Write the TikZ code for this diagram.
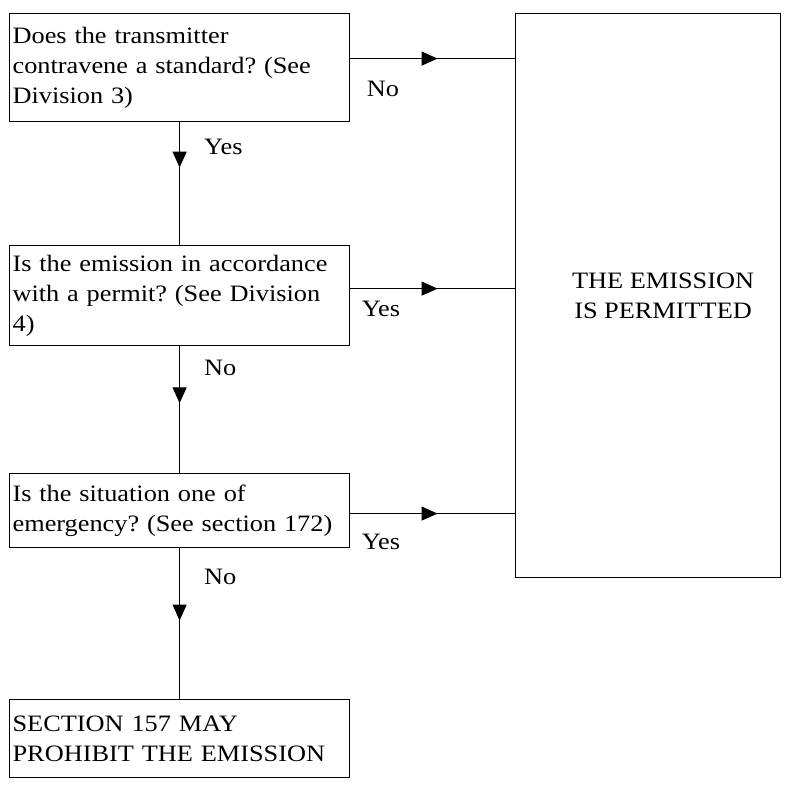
\documentclass[tikz,border=0pt]{standalone}
\usepackage{fontspec}
\setmainfont{Liberation Serif}[FakeStretch=1.12]
\usetikzlibrary{arrows.meta}
\usetikzlibrary{decorations.markings}
\frenchspacing
\newcommand{\chartfont}{\fontsize{11.75pt}{15pt}\selectfont}
\tikzset{
every picture/.style={x=0.5pt, y=-0.5pt, line width=0.6pt,
                      >={Triangle[length=8pt,width=7pt]}},
%%%%%%%%%%  Node styles
question/.style={draw, anchor=north west, align=left, text width=167pt,
                 inner xsep=1.5pt, inner ysep=0pt, minimum width=170pt,
                 font=\chartfont},
outcome/.style={draw, anchor=north west, minimum width=132.5pt,
                minimum height=282pt},
answer/.style={anchor=north west, inner sep=0pt, font=\chartfont},
%%%%%%% Mid-path arrows
flowarrow/.style={postaction={decorate},
                  decoration={
                     markings,% arrow somewhere along the line
                     mark=at position #1 with {\arrow{>}},
                  }},
flowarrow/.default=0.5
}

\begin{document}
\begin{tikzpicture}
\useasboundingbox (0,0) rectangle (811,787);
\node[question, minimum height=54pt] (standard) at (9,13)
  {Does the transmitter\\contravene a standard? (See\\Division 3)};
\node[question, minimum height=50pt] (permit) at (9,245)
  {Is the emission in accordance\\with a permit? (See Division\\4)};
\node[question, minimum height=37pt] (emergency) at (9,473)
  {Is the situation one of\\emergency? (See section 172)};
\node[question, minimum height=39pt] (prohibit) at (9,699)
  {SECTION 157 MAY\\PROHIBIT THE EMISSION};
\node[outcome, label={[align=center, xshift=7.5pt, font=\chartfont]center:{THE EMISSION\\IS PERMITTED}}]
  (permitted) at (515,13) {};
\coordinate (no1) at ([yshift=4.5pt]standard.east);
\coordinate (yes2) at ([yshift=3.5pt]permit.east);
\coordinate (yes3) at ([yshift=-1.5pt]emergency.east);
\draw[flowarrow=0.37] (standard) -- (permit)
  node[answer, pos=0, xshift=12pt, yshift=-8pt] {Yes};
\draw[flowarrow=0.45] (permit) -- (emergency)
  node[answer, pos=0, xshift=12pt, yshift=-6.5pt] {No};
\draw[flowarrow=0.48] (emergency) -- (prohibit)
  node[answer, pos=0, xshift=12pt, yshift=-10pt] {No};
\draw[flowarrow=0.53] (no1) -- (no1 -| permitted.west)
  node[answer, pos=0, xshift=8pt, yshift=-11pt] {No};
\draw[flowarrow=0.53] (yes2) -- (yes2 -| permitted.west)
  node[answer, pos=0, xshift=5.5pt, yshift=-6pt] {Yes};
\draw[flowarrow=0.53] (yes3) -- (yes3 -| permitted.west)
  node[answer, pos=0, xshift=5.5pt, yshift=-10pt] {Yes};
\end{tikzpicture}
\end{document}
